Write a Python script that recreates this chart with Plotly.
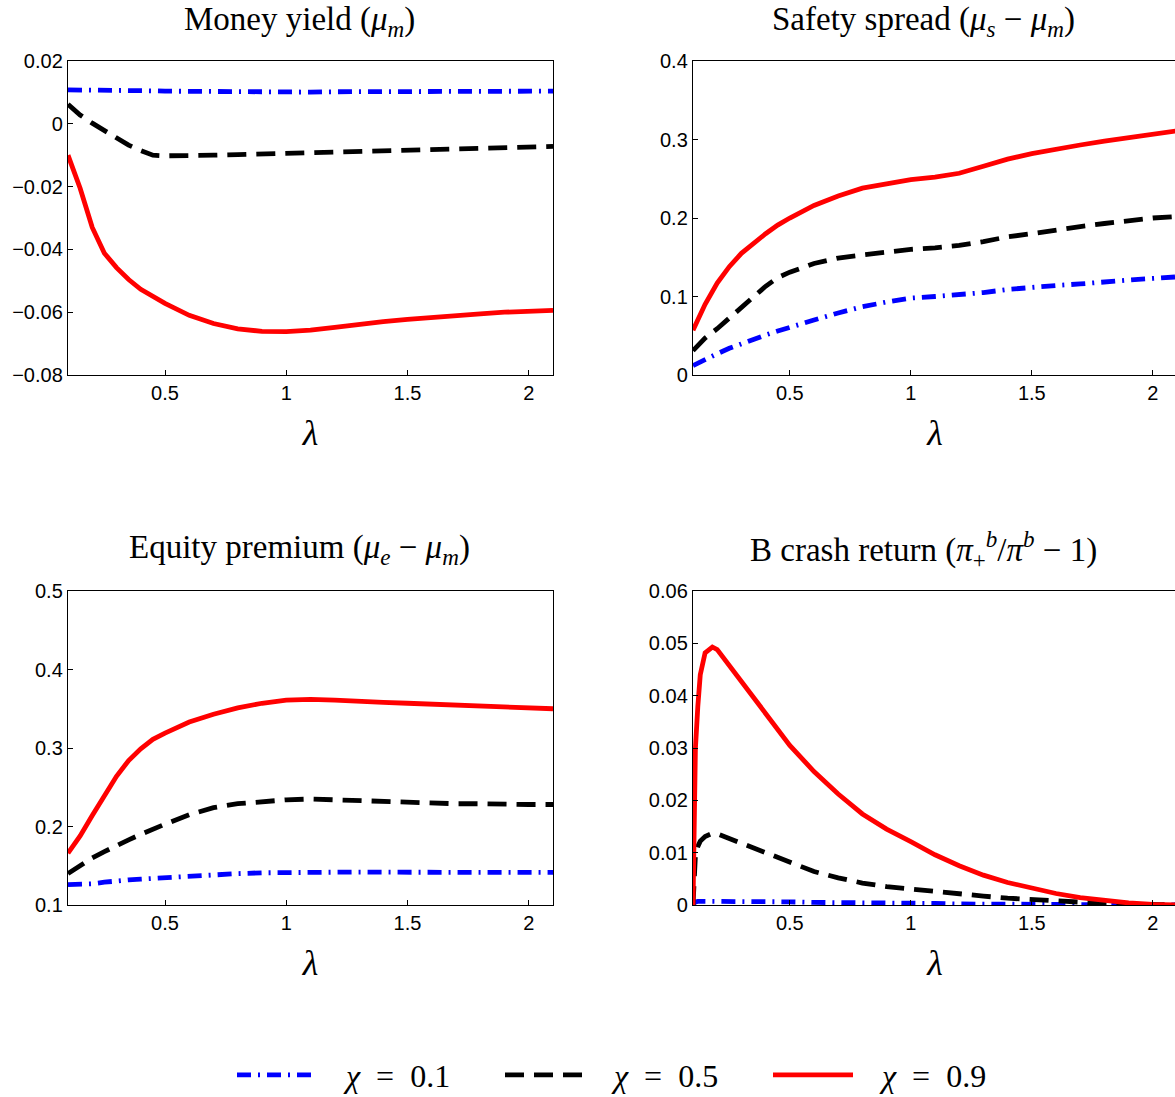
import plotly.graph_objects as go

# ---------------- data ----------------
lam = [0.1, 0.15, 0.2, 0.25, 0.3, 0.35, 0.4, 0.45, 0.5, 0.6, 0.7, 0.8, 0.9,
       1.0, 1.1, 1.2, 1.3, 1.4, 1.5, 1.6, 1.7, 1.8, 1.9, 2.0, 2.1]

money_c01 = [0.0108, 0.0108, 0.0107, 0.0107, 0.0106, 0.0106, 0.0105, 0.0105, 0.0104, 0.0103,
             0.0102, 0.0102, 0.0101, 0.0101, 0.0101, 0.0102, 0.0102, 0.0103, 0.0103, 0.0103,
             0.0104, 0.0104, 0.0104, 0.0104, 0.0104]
money_c05 = [0.0062, 0.0028, 0.0002, -0.0022, -0.0045, -0.0068, -0.0085, -0.0100, -0.0102, -0.0102,
             -0.0100, -0.0098, -0.0096, -0.0094, -0.0092, -0.0089, -0.0087, -0.0085, -0.0083, -0.0081,
             -0.0078, -0.0076, -0.0074, -0.0073, -0.0072]
money_c09 = [-0.0100, -0.0205, -0.0330, -0.0412, -0.0458, -0.0496, -0.0527, -0.0551, -0.0572, -0.0610,
             -0.0636, -0.0653, -0.0661, -0.0662, -0.0657, -0.0648, -0.0638, -0.0630, -0.0623, -0.0616,
             -0.0610, -0.0605, -0.0600, -0.0597, -0.0594]

safety_c01 = [0.012, 0.020, 0.027, 0.034, 0.040, 0.046, 0.051, 0.056, 0.061, 0.070, 0.079, 0.087,
              0.093, 0.098, 0.100, 0.102, 0.105, 0.109, 0.112, 0.114, 0.116, 0.119, 0.121, 0.123, 0.125]
safety_c05 = [0.031, 0.047, 0.059, 0.073, 0.086, 0.100, 0.113, 0.124, 0.131, 0.142, 0.149, 0.153,
              0.157, 0.160, 0.162, 0.165, 0.170, 0.176, 0.180, 0.185, 0.189, 0.193, 0.197, 0.200, 0.202]
safety_c09 = [0.057, 0.090, 0.117, 0.138, 0.155, 0.168, 0.180, 0.191, 0.200, 0.216, 0.228, 0.238,
              0.244, 0.249, 0.252, 0.257, 0.266, 0.275, 0.282, 0.288, 0.293, 0.298, 0.302, 0.306, 0.311]

equity_c01 = [0.126, 0.126, 0.127, 0.129, 0.131, 0.132, 0.133, 0.134, 0.135, 0.137, 0.139, 0.140,
              0.141, 0.1415, 0.142, 0.142, 0.142, 0.1418, 0.1415, 0.1415, 0.1415, 0.1415, 0.1415,
              0.1415, 0.1415]
equity_c05 = [0.140, 0.150, 0.160, 0.168, 0.176, 0.183, 0.190, 0.197, 0.203, 0.215, 0.224, 0.229,
              0.232, 0.234, 0.235, 0.234, 0.232, 0.231, 0.231, 0.230, 0.229, 0.229, 0.228, 0.228, 0.228]
equity_c09 = [0.166, 0.188, 0.214, 0.240, 0.264, 0.284, 0.299, 0.311, 0.319, 0.333, 0.343, 0.351,
              0.357, 0.361, 0.362, 0.361, 0.359, 0.358, 0.357, 0.356, 0.355, 0.354, 0.352, 0.351, 0.350]

lam_crash = [0.1, 0.105, 0.11, 0.12, 0.13, 0.15, 0.18, 0.2, 0.25, 0.3, 0.35, 0.4, 0.5, 0.6, 0.7,
             0.8, 0.9, 1.0, 1.1, 1.2, 1.3, 1.4, 1.5, 1.6, 1.7, 1.8, 1.9, 2.0, 2.1]
crash_c01 = [0.0, 0.0004, 0.0006, 0.0007, 0.0007, 0.0008, 0.0008, 0.0008, 0.0007, 0.0007, 0.0007,
             0.0006, 0.0006, 0.0005, 0.0005, 0.0004, 0.0004, 0.0003, 0.0003, 0.0002, 0.0002, 0.0001,
             0.0001, 0.0001, 0.0, 0.0, 0.0, 0.0, 0.0]
crash_c05 = [0.0, 0.006, 0.0095, 0.0112, 0.0122, 0.0131, 0.0137, 0.0136, 0.0127, 0.0118, 0.0108,
             0.0098, 0.0080, 0.0064, 0.0052, 0.0042, 0.0035, 0.0030, 0.0025, 0.0021, 0.0017, 0.0013,
             0.0010, 0.0007, 0.0005, 0.0003, 0.0002, 0.0001, 0.0]
crash_c09 = [0.0, 0.018, 0.030, 0.038, 0.044, 0.0482, 0.0493, 0.0488, 0.0458, 0.0427, 0.0397,
             0.0365, 0.0305, 0.0255, 0.0212, 0.0174, 0.0145, 0.0121, 0.0096, 0.0075, 0.0057, 0.0043,
             0.0032, 0.0022, 0.0014, 0.0008, 0.0004, 0.0001, 0.0]

NB = "\u00a0"
series_names = [f"{NB*3}<i>χ</i>{NB}{NB}={NB}{NB}0.1",
                f"{NB*3}<i>χ</i>{NB}{NB}={NB}{NB}0.5",
                f"{NB*3}<i>χ</i>{NB}{NB}={NB}{NB}0.9"]
titles = ["Money yield (<i>μ<sub>m</sub></i>)",
          "Safety spread (<i>μ<sub>s</sub></i> − <i>μ<sub>m</sub></i>)",
          "Equity premium (<i>μ<sub>e</sub></i> − <i>μ<sub>m</sub></i>)",
          "B crash return (<i>π</i><sub>+</sub><sup><i>b</i></sup>/<i>π<sup>b</sup></i> − 1)"]
y_ranges = [[-0.08, 0.02], [0, 0.4], [0.1, 0.5], [0, 0.06]]
y_dticks = [0.02, 0.1, 0.1, 0.01]
x_ticks = [0.5, 1, 1.5, 2]

panels = [
    (lam, [money_c01, money_c05, money_c09]),
    (lam, [safety_c01, safety_c05, safety_c09]),
    (lam, [equity_c01, equity_c05, equity_c09]),
    (lam_crash, [crash_c01, crash_c05, crash_c09]),
]

# ---------------- styling ----------------
# Paper is a little wider than the window so the right-hand frames fall just
# outside it, as in the reference (the page body margin is removed below).
W, H = 1185, 1097
colors = ["#0000ff", "#000000", "#ff0000"]
dashes = ["14px,7px,2px,7px", "19px,10px", "solid"]
LW = 4.8
serif = "Liberation Serif, Times New Roman, serif"
sans = "Liberation Sans, Arial, Helvetica, sans-serif"


def fx(p):
    return p / W


def fy(p):
    return 1 - p / H


# window-pixel boxes of the four axes (left, right, top, bottom)
boxes = [(68, 553, 61, 375), (693, 1177, 61, 375), (68, 553, 591, 905), (693, 1177, 591, 905)]
title_x = [299, 923, 299, 923]
title_y = [22, 22, 549, 549]

fig = go.Figure()
for i, (xs, ys) in enumerate(panels):
    ax = "" if i == 0 else str(i + 1)
    for j in range(3):
        fig.add_trace(go.Scatter(
            x=xs, y=ys[j], mode="lines", name=series_names[j],
            line=dict(color=colors[j], width=LW, dash=dashes[j]),
            xaxis="x" + ax, yaxis="y" + ax, showlegend=(i == 0),
        ))
    l, r, t, b = boxes[i]
    common = dict(showline=True, linecolor="black", linewidth=1.4, mirror=True,
                  ticks="inside", ticklen=5, tickcolor="black", tickwidth=1,
                  showgrid=False, zeroline=False, automargin=False,
                  tickfont=dict(family=sans, size=20, color="black"))
    fig.layout["xaxis" + ax] = dict(
        domain=[fx(l), fx(r)], anchor="y" + ax, range=[0.1, 2.1],
        tickvals=x_ticks,
        title=dict(text="<i>λ</i>", font=dict(family=serif, size=36, color="black"), standoff=16),
        **common)
    fig.layout["yaxis" + ax] = dict(
        domain=[fy(b), fy(t)], anchor="x" + ax,
        range=y_ranges[i], dtick=y_dticks[i], tick0=0,
        **common)
    fig.add_annotation(text=titles[i], xref="paper", yref="paper",
                       x=fx(title_x[i]), y=fy(title_y[i]),
                       xanchor="center", yanchor="middle", showarrow=False,
                       font=dict(family=serif, size=33, color="black"))

fig.update_layout(
    template="none",
    width=W, height=H, margin=dict(l=0, r=0, t=0, b=0, autoexpand=False),
    paper_bgcolor="white", plot_bgcolor="white",
    legend=dict(orientation="h", x=fx(232), xanchor="left", y=fy(1075), yanchor="middle",
                font=dict(family=serif, size=32, color="black"), itemwidth=80,
                entrywidth=173, entrywidthmode="pixels", bgcolor="rgba(0,0,0,0)"),
)

fig.write_html("out.html", config={"displayModeBar": False},
               post_script="document.body.style.margin='0';document.body.style.overflow='hidden';")
